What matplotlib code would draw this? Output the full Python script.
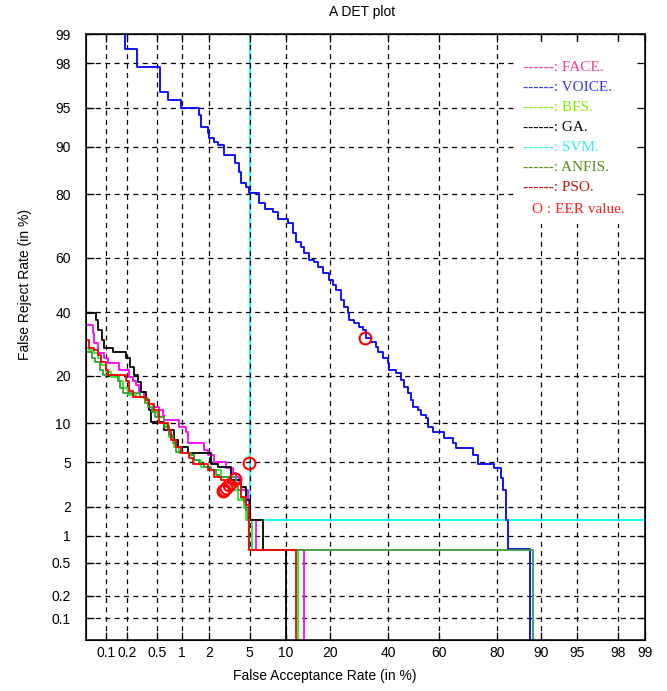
import numpy as np
import matplotlib
matplotlib.use("Agg")
import matplotlib.pyplot as plt
from matplotlib.patches import Rectangle
from statistics import NormalDist

# ==================================================
# DATA (FAR %, FRR %) - step corners
# ==================================================

face_far = [0.01, 0.064, 0.066, 0.076, 0.094, 0.107, 0.154, 0.212, 0.241, 0.264, 0.29,
            0.338, 0.381, 0.442, 0.526, 0.59, 0.607, 0.921, 1.11, 1.17, 1.76, 1.94,
            2.24, 2.97, 3.48, 3.71, 3.96, 4.14, 4.8, 4.91, 5.66, 13.5]
face_frr = [35.5, 32.7, 29.5, 26.3, 24.8, 23.4, 21.45, 19.6, 18.8, 17.6, 16.0,
            14.7, 13.6, 12.85, 12.25, 11.35, 10.5, 9.35, 8.6, 7.1, 6.26, 5.71,
            5.0, 4.46, 4.04, 3.72, 3.36, 2.85, 2.29, 1.46, 0.71, 0.001]

voice_far = [0.19, 0.19, 0.27, 0.55, 0.68, 0.97, 1.55, 1.63, 1.94, 1.99, 2.24, 2.46,
             2.84, 3.63, 3.96, 4.14, 4.61, 4.9, 6.0, 6.76, 7.88, 8.64, 10.3, 11.28,
             11.87, 12.88, 13.52, 14.64, 15.83, 16.83, 18.1, 19.74, 20.88, 21.74,
             23.24, 24.17, 25.46, 25.78, 27.43, 29.12, 30.5, 31.56, 33.4, 35.23,
             35.98, 37.87, 39.78, 40.17, 42.94, 44.9, 46.1, 47.7, 48.9, 49.7, 51.7,
             52.9, 54.9, 55.7, 57.6, 61.9, 65.3, 66.4, 72.4, 74.1, 79.0, 80.95,
             81.5, 82.3, 83.0, 88.0]
voice_frr = [99.9, 98.55, 97.85, 96.3, 95.7, 94.95, 94.2, 92.8, 92.0, 91.3, 90.7, 90.25,
             88.6, 87.05, 85.2, 82.7, 81.8, 80.25, 77.6, 75.9, 75.0, 72.9, 71.7, 68.4,
             65.4, 63.7, 61.6, 59.1, 58.4, 56.5, 54.3, 51.8, 49.9, 48.0,
             44.4, 41.8, 39.7, 37.2, 36.1, 34.7, 33.7, 31.1, 29.8, 28.2,
             26.6, 24.8, 23.4, 21.45, 20.65, 18.84, 17.13, 15.76, 14.25, 12.84, 12.26,
             11.33, 10.82, 9.35, 8.6, 7.75, 7.1, 6.49, 5.71, 4.9, 4.46, 3.65,
             2.85, 1.46, 0.72, 0.001]

bfs_far = [0.01, 0.056, 0.066, 0.076, 0.084, 0.1, 0.118, 0.154, 0.176, 0.206, 0.264,
           0.327, 0.381, 0.442, 0.511, 0.607, 0.698, 0.804, 0.921, 1.2, 1.37, 1.63,
           1.94, 2.65, 3.11, 3.55, 3.88, 4.42, 4.61, 5.22, 12.26]
bfs_frr = [27.9, 27.3, 26.3, 24.8, 22.8, 20.9, 19.6, 18.8, 16.9, 15.3, 14.9,
           14.7, 13.6, 11.9, 11.0, 9.66, 7.9, 6.6, 5.92, 5.71, 5.2, 4.54,
           4.28, 3.72, 3.36, 2.85, 2.29, 1.92, 1.46, 0.71, 0.001]

ga_far = [0.01, 0.071, 0.076, 0.087, 0.094, 0.126, 0.193, 0.219, 0.248, 0.281, 0.308,
          0.359, 0.393, 0.417, 0.607, 0.804, 0.897, 1.17, 2.09, 2.46, 3.33, 4.14,
          4.61, 5.0, 6.5, 9.97]
ga_frr = [39.7, 37.2, 33.7, 30.4, 27.9, 26.6, 24.8, 22.3, 20.1, 18.35, 16.0,
          14.25, 12.25, 10.15, 8.9, 7.5, 6.6, 5.92, 4.9, 4.54, 3.5, 3.03,
          2.29, 1.46, 0.71, 0.001]

svm_far = [5.0, 5.0, 99.9]
svm_frr = [99.9, 1.46, 1.46]

anfis_far = [0.01, 0.062, 0.069, 0.082, 0.09, 0.149, 0.159, 0.176, 0.299, 0.349, 0.381,
             0.429, 0.469, 0.607, 0.698, 0.782, 0.85, 0.972, 1.26, 1.37, 1.55, 1.76,
             2.09, 2.35, 2.53, 3.71, 3.88, 4.14, 4.42, 4.61, 4.8, 4.91, 88.6]
anfis_frr = [26.6, 24.8, 23.7, 21.45, 20.1, 18.8, 16.9, 15.8, 14.9, 13.8, 12.85,
             11.9, 11.0, 9.35, 8.17, 7.1, 6.03, 5.92, 5.71, 5.2, 4.9, 4.54,
             4.28, 3.88, 3.72, 3.03, 2.85, 2.4, 2.2, 1.83, 1.46, 0.71, 0.001]

pso_far = [0.01, 0.056, 0.066, 0.076, 0.084, 0.1, 0.107, 0.193, 0.212, 0.241, 0.359,
           0.393, 0.455, 0.526, 0.679, 0.741, 0.85, 0.972, 1.2, 1.33, 1.94, 2.24,
           2.65, 3.11, 4.14, 4.61, 4.91, 11.87]
pso_frr = [30.4, 27.9, 27.3, 25.7, 23.7, 21.45, 20.1, 18.8, 16.4, 14.9, 14.25,
           13.6, 12.25, 9.97, 8.9, 7.5, 6.6, 5.92, 5.4, 4.9, 4.28, 3.72,
           3.5, 3.3, 2.45, 2.05, 0.71, 0.001]

names = ["FACE", "VOICE", "BFS", "GA", "SVM", "ANFIS", "PSO"]
eer = [3.64, 31.3, 2.97, 3.17, 4.95, 2.85, 2.80]

tick_vals = [0.1, 0.2, 0.5, 1, 2, 5, 10, 20, 40, 60, 80, 90, 95, 98, 99]
tick_labels = ["0.1", "0.2", "0.5", "1", "2", "5", "10", "20", "40", "60",
               "80", "90", "95", "98", "99"]

line_colors = ["#ff00ff", "#0000ff", "#22ee22", "#000000", "#00ffff", "#3c9a3c", "#ff0000"]
text_colors = ["#f3409a", "#3333ee", "#80ee00", "#000000", "#33eeee", "#5a8a1e", "#cc1111"]

# ==================================================
# NORMAL DEVIATE (DET) SCALE
# ==================================================

nd = NormalDist()
_ppf = np.vectorize(nd.inv_cdf, otypes=[float])
_cdf = np.vectorize(nd.cdf, otypes=[float])


def probit(p):
    p = np.clip(np.asarray(p, dtype=float) / 100.0, 1e-9, 1 - 1e-9)
    return _ppf(p)


def inv_probit(z):
    return _cdf(np.asarray(z, dtype=float)) * 100.0


# ==================================================
# PLOT
# ==================================================

plt.rcParams["font.family"] = "Liberation Sans"

fig = plt.figure(figsize=(6.67, 6.91), dpi=100)
ax = fig.add_axes([86 / 667, 1 - 640 / 691, 559 / 667, 606 / 691])

ax.set_xscale("function", functions=(probit, inv_probit))
ax.set_yscale("function", functions=(probit, inv_probit))
ax.set_xlim(0.05, 99)
ax.set_ylim(0.05, 99)

curves = [
    (face_far, face_frr),
    (voice_far, voice_frr),
    (bfs_far, bfs_frr),
    (ga_far, ga_frr),
    (svm_far, svm_frr),
    (anfis_far, anfis_frr),
    (pso_far, pso_frr),
]
for name, (far, frr), col in zip(names, curves, line_colors):
    # SVM sits on the 5 % grid line, which shows through it
    z = 0.4 if name == "SVM" else 2
    ax.plot(far, frr, drawstyle="steps-post", color=col, lw=1.3, zorder=z)

ax.plot(eer, eer, "o", mfc="none", mec="red", ms=8.5, mew=1.5, zorder=4)

ax.set_xticks(tick_vals, tick_labels)
ax.set_yticks(tick_vals, tick_labels)
ax.minorticks_off()
ax.set_axisbelow(True)
ax.grid(True, color="black", linestyle=(0, (4, 3.5)), linewidth=0.9)
ax.tick_params(direction="in", length=6, width=0.9, labelsize=10,
               top=True, right=False)
ax.tick_params(axis="y", pad=11)
ax.tick_params(axis="x", pad=4)
for s in ax.spines.values():
    s.set_linewidth(1.1)

# right-side ticks above the legend box
ax2 = ax.twinx()
ax2.set_yscale("function", functions=(probit, inv_probit))
ax2.set_ylim(0.05, 99)
ax2.set_yticks(tick_vals, [""] * len(tick_vals))
ax2.minorticks_off()
ax2.tick_params(direction="in", length=6, width=0.9)

# legend written as text on a white box
ax.add_patch(Rectangle((0.768, 0.686), 0.232, 0.30, transform=ax.transAxes,
                       facecolor="white", edgecolor="none", zorder=1))
legend_y = [0.944, 0.911, 0.878, 0.845, 0.812, 0.780, 0.747]
for name, col, yy in zip(names, text_colors, legend_y):
    ax.text(0.782, yy, "------: " + name + ".", transform=ax.transAxes,
            color=col, fontsize=11, family="Liberation Serif",
            va="center", ha="left", zorder=5)
ax.text(0.798, 0.710, "O : EER value.", transform=ax.transAxes,
        color="#ff2020", fontsize=11, family="Liberation Serif",
        va="center", ha="left", zorder=5)

ax.set_xlabel("False Acceptance Rate (in %)", fontsize=10)
ax.set_ylabel("False Reject Rate (in %)", fontsize=10)
ax.xaxis.set_label_coords(0.4275, -0.048)
ax.yaxis.set_label_coords(-0.097, 0.587)
fig.text(362 / 667, 1 - 12 / 691, "A DET plot", ha="center", va="center", fontsize=10)

plt.savefig("out.png", dpi=100)
plt.close()
